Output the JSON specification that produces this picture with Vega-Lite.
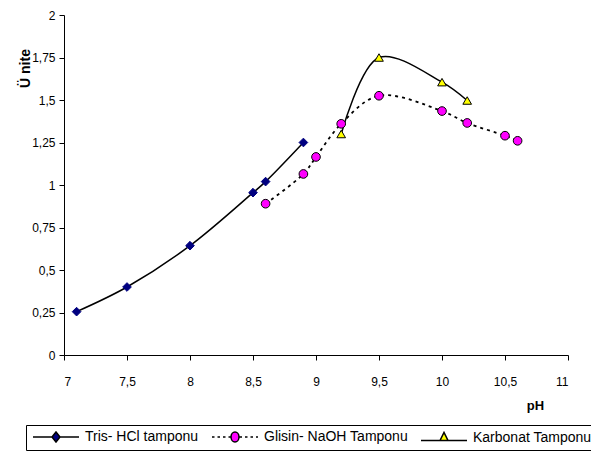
{
  "$schema": "https://vega.github.io/schema/vega-lite/v6.json",
  "width": 504,
  "height": 340,
  "autosize": {"type": "none"},
  "padding": {"left": 64, "top": 15, "right": 23, "bottom": 106},
  "background": "white",
  "config": {
    "view": {"stroke": null},
    "font": "Liberation Sans",
    "axis": {
      "grid": false,
      "domainColor": "black",
      "tickColor": "black",
      "labelColor": "black",
      "titleColor": "black",
      "labelFontSize": 12,
      "tickSize": 5,
      "labelFont": "Liberation Sans",
      "titleFont": "Liberation Sans"
    },
    "legend": {
      "orient": "none",
      "legendX": -38,
      "legendY": 410,
      "direction": "horizontal",
      "strokeColor": "black",
      "padding": 5,
      "labelFontSize": 14,
      "labelFont": "Liberation Sans",
      "labelColor": "black",
      "symbolSize": 100,
      "labelOffset": 40,
      "columnPadding": 10
    }
  },
  "data": {
    "values": [
      {"series": "Tris- HCl tamponu", "pH": 7.1, "value": 0.255},
      {"series": "Tris- HCl tamponu", "pH": 7.5, "value": 0.40},
      {"series": "Tris- HCl tamponu", "pH": 8.0, "value": 0.643},
      {"series": "Tris- HCl tamponu", "pH": 8.5, "value": 0.955},
      {"series": "Tris- HCl tamponu", "pH": 8.6, "value": 1.02},
      {"series": "Tris- HCl tamponu", "pH": 8.9, "value": 1.25},
      {"series": "Glisin- NaOH Tamponu", "pH": 8.6, "value": 0.89},
      {"series": "Glisin- NaOH Tamponu", "pH": 8.9, "value": 1.065},
      {"series": "Glisin- NaOH Tamponu", "pH": 9.0, "value": 1.165},
      {"series": "Glisin- NaOH Tamponu", "pH": 9.2, "value": 1.36},
      {"series": "Glisin- NaOH Tamponu", "pH": 9.5, "value": 1.525},
      {"series": "Glisin- NaOH Tamponu", "pH": 10.0, "value": 1.435},
      {"series": "Glisin- NaOH Tamponu", "pH": 10.2, "value": 1.365},
      {"series": "Glisin- NaOH Tamponu", "pH": 10.5, "value": 1.29},
      {"series": "Glisin- NaOH Tamponu", "pH": 10.6, "value": 1.26},
      {"series": "Karbonat Tamponu", "pH": 9.2, "value": 1.30},
      {"series": "Karbonat Tamponu", "pH": 9.5, "value": 1.75},
      {"series": "Karbonat Tamponu", "pH": 10.0, "value": 1.605},
      {"series": "Karbonat Tamponu", "pH": 10.2, "value": 1.497}
    ]
  },
  "encoding": {
    "x": {
      "field": "pH", "type": "quantitative",
      "scale": {"domain": [7, 11], "nice": false, "zero": false},
      "axis": {
        "values": [7, 7.5, 8, 8.5, 9, 9.5, 10, 10.5, 11],
        "labelExpr": "replace(format(datum.value, '.2~f'), '.', ',')",
        "labelPadding": 16,
        "title": "pH",
        "titleFontWeight": "bold",
        "titleFontSize": 13,
        "titleX": 471,
        "titleY": 50,
        "titleAlign": "center",
        "titleBaseline": "middle"
      }
    },
    "y": {
      "field": "value", "type": "quantitative",
      "scale": {"domain": [0, 2], "nice": false},
      "axis": {
        "values": [0, 0.25, 0.5, 0.75, 1, 1.25, 1.5, 1.75, 2],
        "labelExpr": "replace(format(datum.value, '.2~f'), '.', ',')",
        "labelPadding": 4,
        "title": "Ü nite",
        "titleFontWeight": "bold",
        "titleFontSize": 14,
        "titleAngle": 270,
        "titleX": -39,
        "titleY": 53,
        "titleAlign": "center",
        "titleBaseline": "middle"
      }
    }
  },
  "layer": [
    {
      "transform": [{"filter": "datum.series !== 'Glisin- NaOH Tamponu'"}],
      "mark": {"type": "line", "interpolate": "catmull-rom", "color": "black", "strokeWidth": 1.5},
      "encoding": {
        "detail": {"field": "series"}
      }
    },
    {
      "transform": [{"filter": "datum.series === 'Glisin- NaOH Tamponu'"}],
      "mark": {"type": "line", "interpolate": "catmull-rom", "color": "black", "strokeWidth": 1.8, "strokeDash": [3, 4]},
      "encoding": {
        "detail": {"field": "series"}
      }
    },
    {
      "mark": {"type": "point", "filled": true, "size": 75, "opacity": 1, "strokeWidth": 1},
      "encoding": {
        "shape": {
          "condition": [
            {"test": "datum.series === 'Tris- HCl tamponu'", "value": "diamond"},
            {"test": "datum.series === 'Glisin- NaOH Tamponu'", "value": "circle"}
          ],
          "value": "triangle-up"
        },
        "fill": {
          "condition": [
            {"test": "datum.series === 'Tris- HCl tamponu'", "value": "#000080"},
            {"test": "datum.series === 'Glisin- NaOH Tamponu'", "value": "#FF00FF"}
          ],
          "value": "#FFFF00"
        },
        "stroke": {
          "condition": {"test": "datum.series === 'Tris- HCl tamponu'", "value": "#000080"},
          "value": "black"
        }
      }
    },
    {
      "transform": [{"filter": "false"}],
      "mark": {"type": "point", "filled": true, "opacity": 1, "stroke": "black", "strokeWidth": 1.2},
      "encoding": {
        "shape": {
          "field": "series", "type": "nominal",
          "scale": {
            "domain": ["Tris- HCl tamponu", "Glisin- NaOH Tamponu", "Karbonat Tamponu"],
            "range": [
              "M-1,0H2.8M4.4,0H8.2M2.8,0L3.6,-1L4.4,0L3.6,1Z",
              "M-1,0H-0.5M0.1,0H0.6M1.2,0H1.7M2.3,0H2.7M4.5,0H5M5.6,0H6.1M6.7,0H7.2M7.8,0H8.2M2.8,0A0.8,1 0 1,0 4.4,0A0.8,1 0 1,0 2.8,0Z",
              "M-1,0.6H2.8M4.4,0.6H8.2M2.8,0.6L3.6,-1L4.4,0.6Z"
            ]
          },
          "legend": {"title": null}
        },
        "fill": {
          "field": "series", "type": "nominal",
          "scale": {"domain": ["Tris- HCl tamponu", "Glisin- NaOH Tamponu", "Karbonat Tamponu"], "range": ["#000080", "#FF00FF", "#FFFF00"]},
          "legend": {"title": null}
        }
      }
    }
  ]
}
